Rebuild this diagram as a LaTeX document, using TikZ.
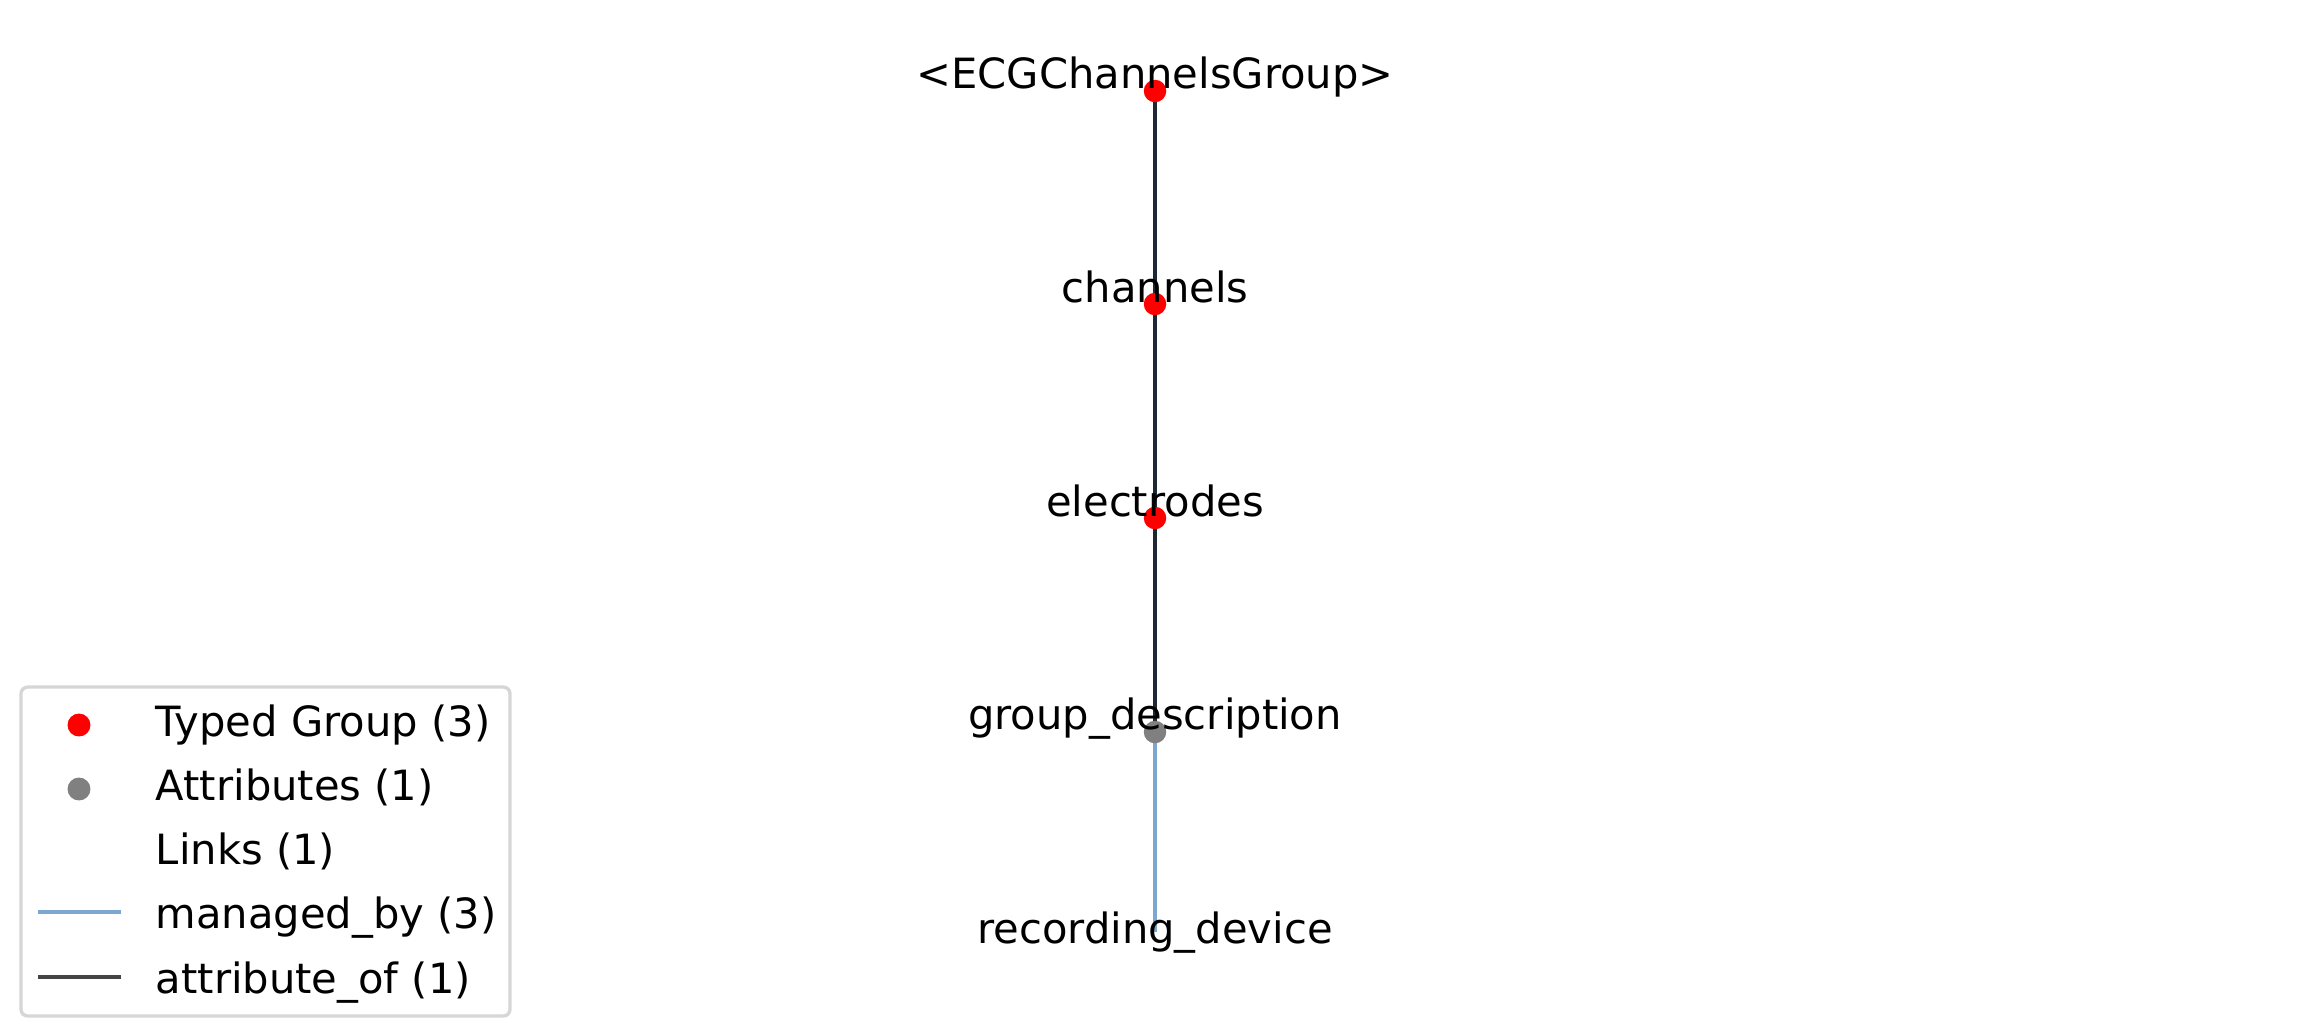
\documentclass[tikz,border=0pt]{standalone}
\usepackage{fontspec}
\setmainfont{DejaVu Sans}
\definecolor{typedred}{HTML}{FF0000}
\definecolor{attrgray}{HTML}{808080}
\definecolor{managedblue}{HTML}{7BA7D0}
\definecolor{attrofdark}{HTML}{444444}
\definecolor{edgedark}{HTML}{1C2834}
\definecolor{framegray}{HTML}{D6D6D6}
\tikzset{
  dotnode/.style={circle, inner sep=0pt, minimum size=5.4pt},
  typeddot/.style={dotnode, fill=typedred},
  attrdot/.style={dotnode, fill=attrgray},
  lbl/.style={anchor=base, inner sep=0pt, font=\fontsize{10pt}{12pt}\selectfont},
  leglbl/.style={anchor=base west, inner sep=0pt, font=\fontsize{10pt}{12pt}\selectfont},
  darkedge/.style={draw=edgedark, line width=1pt},
  blueedge/.style={draw=managedblue, line width=1pt},
  legline/.style={line width=1pt},
}
\begin{document}
\begin{tikzpicture}[x=0.24pt, y=-0.24pt]
\useasboundingbox (0,0) rectangle (2310,1035);
% positions
\coordinate (pECG) at (1155,91);
\coordinate (pCH) at (1155,304);
\coordinate (pEL) at (1155,518);
\coordinate (pGD) at (1155,732);
\coordinate (pRD) at (1155,932);
% edges
\draw[darkedge] (pECG) -- (pCH);
\draw[darkedge] (pCH) -- (pEL);
\draw[darkedge] (pEL) -- (pGD);
\draw[blueedge] (pGD) -- (pRD);
% dots
\node[typeddot] (nECG) at (pECG) {};
\node[typeddot] (nCH) at (pCH) {};
\node[typeddot] (nEL) at (pEL) {};
\node[attrdot] (nGD) at (pGD) {};
% labels
\node[lbl] (tECG) at (1155,88) {<ECGChannelsGroup>};
\node[lbl] (tCH) at (1155,302) {channels};
\node[lbl] (tEL) at (1155,516) {electrodes};
\node[lbl] (tGD) at (1155,729) {group\_description};
\node[lbl] (tRD) at (1155,943) {recording\_device};
% legend
\draw[framegray, line width=0.8pt, rounded corners=1.6pt, fill=white] (21,687) rectangle (510,1016);
\node[typeddot, minimum size=5.5pt] (lg1) at (79,725) {};
\node[attrdot, minimum size=5.5pt] (lg2) at (79,789) {};
\coordinate (lg4a) at (38,912);
\coordinate (lg4b) at (121,912);
\draw[managedblue, legline] (lg4a) -- (lg4b);
\coordinate (lg5a) at (38,977);
\coordinate (lg5b) at (121,977);
\draw[attrofdark, legline] (lg5a) -- (lg5b);
\node[leglbl] (lt1) at (155,736) {Typed Group (3)};
\node[leglbl] (lt2) at (155,800) {Attributes (1)};
\node[leglbl] (lt3) at (155,864) {Links (1)};
\node[leglbl] (lt4) at (155,928) {managed\_by (3)};
\node[leglbl] (lt5) at (155,993) {attribute\_of (1)};
\end{tikzpicture}
\end{document}
